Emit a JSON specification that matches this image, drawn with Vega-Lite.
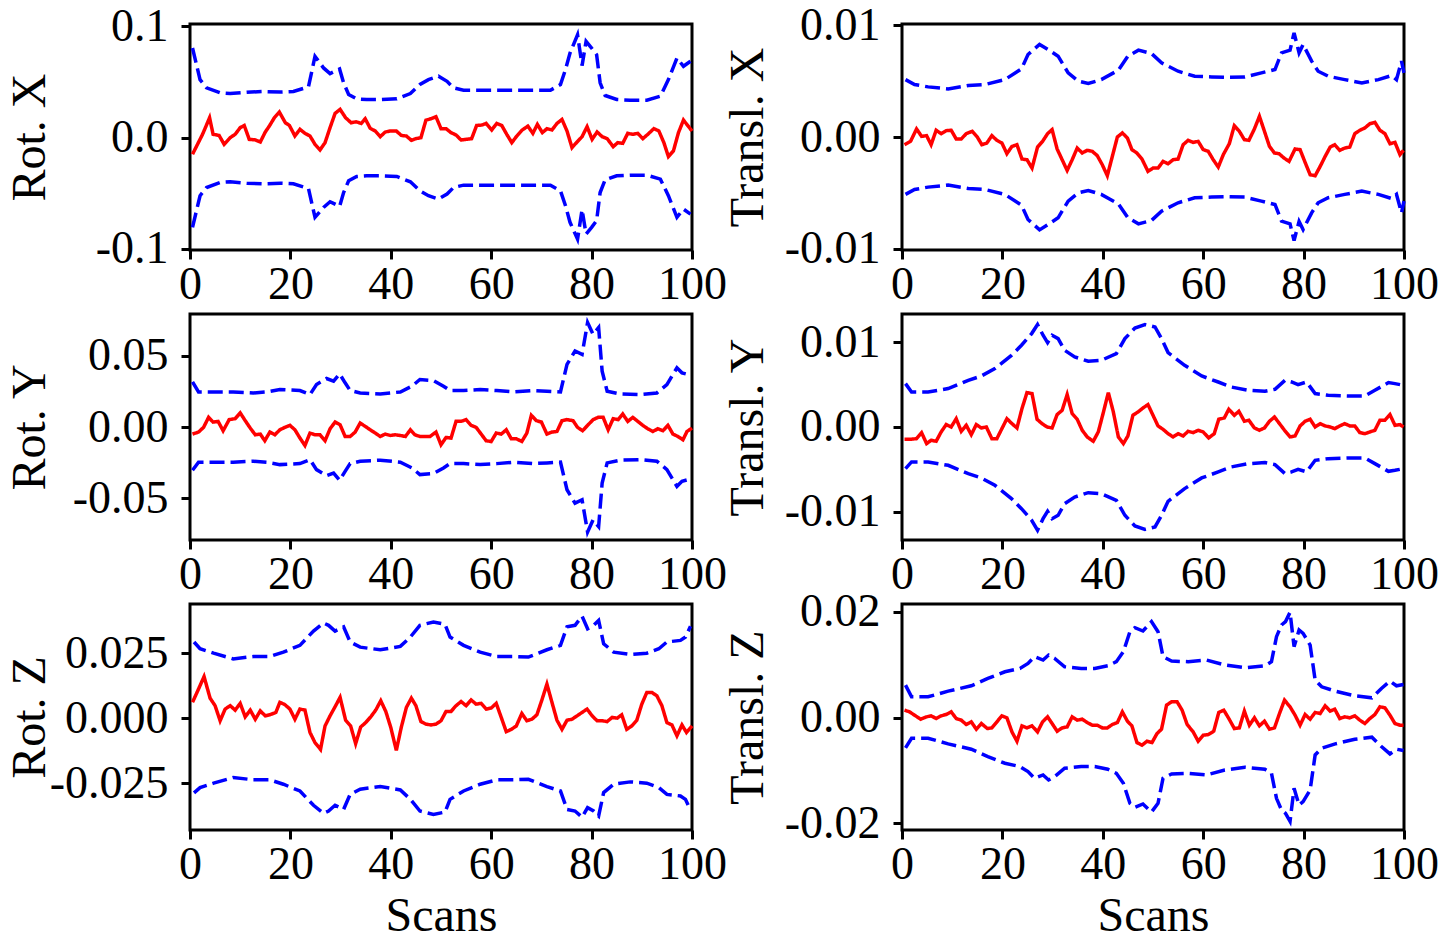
{
  "$schema": "https://vega.github.io/schema/vega-lite/v6.json",
  "background": "white",
  "padding": {"left": 4, "top": 0, "right": 0, "bottom": 0},
  "columns": 2,
  "bounds": "flush",
  "spacing": {"row": 64, "column": 210},
  "datasets": {
    "rx": [
      {"x":0.5,"s":"e","v":-0.0149},{"x":2.5,"s":"e","v":0.003},{"x":3.9,"s":"e","v":0.0179},{"x":4.6,"s":"e","v":0.003},{"x":5.8,"s":"e","v":0.002},{"x":6.8,"s":"e","v":-0.006},{"x":8,"s":"e","v":0},{"x":9,"s":"e","v":0.003},{"x":10,"s":"e","v":0.009},{"x":10.8,"s":"e","v":0.011},{"x":11.8,"s":"e","v":-0.0015},{"x":13,"s":"e","v":-0.002},{"x":14,"s":"e","v":-0.0039},{"x":15,"s":"e","v":0.0051},{"x":15.8,"s":"e","v":0.0104},{"x":16.8,"s":"e","v":0.0179},{"x":17.8,"s":"e","v":0.023},{"x":19,"s":"e","v":0.0134},{"x":19.8,"s":"e","v":0.011},{"x":20.9,"s":"e","v":0.0015},{"x":21.9,"s":"e","v":0.0075},{"x":22.9,"s":"e","v":0.0039},{"x":23.9,"s":"e","v":0.0015},{"x":24.9,"s":"e","v":-0.006},{"x":25.9,"s":"e","v":-0.011},{"x":26.9,"s":"e","v":-0.0045},{"x":27.9,"s":"e","v":0.009},{"x":28.9,"s":"e","v":0.0218},{"x":29.9,"s":"e","v":0.0254},{"x":31,"s":"e","v":0.0179},{"x":32.1,"s":"e","v":0.0134},{"x":33.1,"s":"e","v":0.0143},{"x":34.1,"s":"e","v":0.0128},{"x":34.9,"s":"e","v":0.017},{"x":35.9,"s":"e","v":0.0084},{"x":36.9,"s":"e","v":0.006},{"x":37.9,"s":"e","v":0.0009},{"x":38.9,"s":"e","v":0.0051},{"x":39.9,"s":"e","v":0.006},{"x":41.1,"s":"e","v":0.006},{"x":42.1,"s":"e","v":0.002},{"x":43.1,"s":"e","v":0.0015},{"x":44.1,"s":"e","v":-0.0024},{"x":45,"s":"e","v":-0.0009},{"x":46,"s":"e","v":0},{"x":47,"s":"e","v":0.0158},{"x":48,"s":"e","v":0.017},{"x":49,"s":"e","v":0.0188},{"x":50,"s":"e","v":0.0081},{"x":51,"s":"e","v":0.0081},{"x":52,"s":"e","v":0.0045},{"x":53,"s":"e","v":0.0024},{"x":54,"s":"e","v":-0.0021},{"x":55,"s":"e","v":-0.0015},{"x":56.1,"s":"e","v":-0.0009},{"x":57.1,"s":"e","v":0.011},{"x":58.1,"s":"e","v":0.0113},{"x":59,"s":"e","v":0.0128},{"x":60.1,"s":"e","v":0.0069},{"x":61.1,"s":"e","v":0.0128},{"x":62.1,"s":"e","v":0.011},{"x":63.1,"s":"e","v":0.003},{"x":64.1,"s":"e","v":-0.0045},{"x":65.1,"s":"e","v":0.0015},{"x":66.1,"s":"e","v":0.0066},{"x":67.3,"s":"e","v":0.0104},{"x":68.3,"s":"e","v":0.0039},{"x":69.2,"s":"e","v":0.0119},{"x":70.2,"s":"e","v":0.0045},{"x":71.1,"s":"e","v":0.0081},{"x":72.1,"s":"e","v":0.0069},{"x":73.1,"s":"e","v":0.0128},{"x":74.1,"s":"e","v":0.0164},{"x":75.1,"s":"e","v":0.006},{"x":76.1,"s":"e","v":-0.009},{"x":77.1,"s":"e","v":-0.0039},{"x":78.1,"s":"e","v":0.0009},{"x":79.1,"s":"e","v":0.0099},{"x":80.1,"s":"e","v":-0.0015},{"x":81.1,"s":"e","v":0.0051},{"x":82.1,"s":"e","v":0.0009},{"x":83.1,"s":"e","v":-0.0009},{"x":84.3,"s":"e","v":-0.0081},{"x":85.2,"s":"e","v":-0.0045},{"x":86.2,"s":"e","v":-0.0051},{"x":87.2,"s":"e","v":0.0039},{"x":88.2,"s":"e","v":0.003},{"x":89.2,"s":"e","v":0.0039},{"x":90.2,"s":"e","v":-0.0009},{"x":91.2,"s":"e","v":0.003},{"x":92.4,"s":"e","v":0.0081},{"x":93.4,"s":"e","v":0.006},{"x":94.4,"s":"e","v":-0.0045},{"x":95.3,"s":"e","v":-0.017},{"x":96.3,"s":"e","v":-0.0119},{"x":97.3,"s":"e","v":0.0045},{"x":98.3,"s":"e","v":0.0158},{"x":100,"s":"e","v":0.006},
      {"x":0.5,"s":"u","v":0.0806},{"x":2,"s":"u","v":0.0522},{"x":3.3,"s":"u","v":0.0448},{"x":6,"s":"u","v":0.0403},{"x":8,"s":"u","v":0.0397},{"x":11.3,"s":"u","v":0.0409},{"x":14.6,"s":"u","v":0.0415},{"x":18,"s":"u","v":0.041},{"x":20.6,"s":"u","v":0.0415},{"x":23.6,"s":"u","v":0.0457},{"x":24.9,"s":"u","v":0.0731},{"x":26.6,"s":"u","v":0.0627},{"x":27.9,"s":"u","v":0.0576},{"x":29.8,"s":"u","v":0.0618},{"x":30.6,"s":"u","v":0.0493},{"x":31.6,"s":"u","v":0.0388},{"x":33.2,"s":"u","v":0.0349},{"x":35.2,"s":"u","v":0.0343},{"x":37.9,"s":"u","v":0.0343},{"x":41.2,"s":"u","v":0.0349},{"x":43.9,"s":"u","v":0.0397},{"x":45.8,"s":"u","v":0.0478},{"x":47.5,"s":"u","v":0.0522},{"x":49.5,"s":"u","v":0.0552},{"x":51.2,"s":"u","v":0.0507},{"x":52.5,"s":"u","v":0.0448},{"x":54.5,"s":"u","v":0.0427},{"x":57.8,"s":"u","v":0.0427},{"x":64.5,"s":"u","v":0.0427},{"x":71.8,"s":"u","v":0.0427},{"x":73.8,"s":"u","v":0.0478},{"x":74.8,"s":"u","v":0.0612},{"x":75.7,"s":"u","v":0.0761},{"x":77.2,"s":"u","v":0.0925},{"x":78.1,"s":"u","v":0.0648},{"x":78.9,"s":"u","v":0.0866},{"x":80,"s":"u","v":0.0806},{"x":81,"s":"u","v":0.0746},{"x":81.7,"s":"u","v":0.0493},{"x":82.7,"s":"u","v":0.0379},{"x":85,"s":"u","v":0.0343},{"x":87.7,"s":"u","v":0.0337},{"x":91,"s":"u","v":0.0337},{"x":93.7,"s":"u","v":0.0373},{"x":95.3,"s":"u","v":0.0522},{"x":97,"s":"u","v":0.0716},{"x":98.3,"s":"u","v":0.0642},{"x":99.7,"s":"u","v":0.0687},
      {"x":0.5,"s":"l","v":-0.0806},{"x":2,"s":"l","v":-0.0522},{"x":3.3,"s":"l","v":-0.0448},{"x":6,"s":"l","v":-0.0403},{"x":8,"s":"l","v":-0.0397},{"x":11.3,"s":"l","v":-0.0409},{"x":14.6,"s":"l","v":-0.0415},{"x":18,"s":"l","v":-0.041},{"x":20.6,"s":"l","v":-0.0415},{"x":23.6,"s":"l","v":-0.0457},{"x":24.9,"s":"l","v":-0.0716},{"x":26.6,"s":"l","v":-0.0627},{"x":27.9,"s":"l","v":-0.0576},{"x":29.8,"s":"l","v":-0.0618},{"x":30.6,"s":"l","v":-0.0493},{"x":31.6,"s":"l","v":-0.0388},{"x":33.2,"s":"l","v":-0.0349},{"x":35.2,"s":"l","v":-0.0343},{"x":37.9,"s":"l","v":-0.0343},{"x":41.2,"s":"l","v":-0.0349},{"x":43.9,"s":"l","v":-0.0397},{"x":45.8,"s":"l","v":-0.0478},{"x":47.5,"s":"l","v":-0.0522},{"x":49.5,"s":"l","v":-0.0552},{"x":51.2,"s":"l","v":-0.0507},{"x":52.5,"s":"l","v":-0.0448},{"x":54.5,"s":"l","v":-0.0427},{"x":57.8,"s":"l","v":-0.0427},{"x":64.5,"s":"l","v":-0.0427},{"x":71.8,"s":"l","v":-0.0427},{"x":73.8,"s":"l","v":-0.0478},{"x":74.8,"s":"l","v":-0.0612},{"x":75.7,"s":"l","v":-0.0761},{"x":77.2,"s":"l","v":-0.0913},{"x":78.1,"s":"l","v":-0.0648},{"x":78.9,"s":"l","v":-0.0866},{"x":80,"s":"l","v":-0.0806},{"x":81,"s":"l","v":-0.0746},{"x":81.7,"s":"l","v":-0.0493},{"x":82.7,"s":"l","v":-0.0379},{"x":85,"s":"l","v":-0.0343},{"x":87.7,"s":"l","v":-0.0337},{"x":91,"s":"l","v":-0.0337},{"x":93.7,"s":"l","v":-0.0373},{"x":95.3,"s":"l","v":-0.0522},{"x":97,"s":"l","v":-0.0716},{"x":98.3,"s":"l","v":-0.0642},{"x":99.7,"s":"l","v":-0.0687}
    ],
    "tx": [
      {"x":0.5,"s":"e","v":-0.00069},{"x":1.7,"s":"e","v":-0.00039},{"x":2.9,"s":"e","v":0.00072},{"x":3.9,"s":"e","v":0.00006},{"x":4.9,"s":"e","v":0.00012},{"x":5.8,"s":"e","v":-0.00069},{"x":6.8,"s":"e","v":0.0006},{"x":7.8,"s":"e","v":0.0003},{"x":8.8,"s":"e","v":0.00057},{"x":9.8,"s":"e","v":0.0006},{"x":10.8,"s":"e","v":-0.00018},{"x":11.8,"s":"e","v":-0.00018},{"x":12.8,"s":"e","v":0.0003},{"x":14,"s":"e","v":0.00051},{"x":15,"s":"e","v":0},{"x":15.9,"s":"e","v":-0.00069},{"x":16.9,"s":"e","v":-0.00054},{"x":17.9,"s":"e","v":0.00012},{"x":18.9,"s":"e","v":-0.0003},{"x":19.9,"s":"e","v":-0.00054},{"x":20.9,"s":"e","v":-0.00149},{"x":21.9,"s":"e","v":-0.00084},{"x":22.9,"s":"e","v":-0.00069},{"x":23.9,"s":"e","v":-0.00197},{"x":24.9,"s":"e","v":-0.00203},{"x":25.9,"s":"e","v":-0.00278},{"x":27,"s":"e","v":-0.0009},{"x":28,"s":"e","v":-0.00039},{"x":29,"s":"e","v":0.0003},{"x":29.9,"s":"e","v":0.00066},{"x":30.9,"s":"e","v":-0.00107},{"x":31.9,"s":"e","v":-0.00203},{"x":32.9,"s":"e","v":-0.00299},{"x":33.9,"s":"e","v":-0.00203},{"x":34.9,"s":"e","v":-0.00099},{"x":35.9,"s":"e","v":-0.00143},{"x":36.9,"s":"e","v":-0.00119},{"x":37.9,"s":"e","v":-0.00128},{"x":38.9,"s":"e","v":-0.00167},{"x":39.9,"s":"e","v":-0.00248},{"x":40.9,"s":"e","v":-0.00346},{"x":41.9,"s":"e","v":-0.00173},{"x":42.9,"s":"e","v":0},{"x":43.9,"s":"e","v":0.00036},{"x":44.9,"s":"e","v":-0.00009},{"x":45.8,"s":"e","v":-0.00113},{"x":46.8,"s":"e","v":-0.00143},{"x":47.8,"s":"e","v":-0.00197},{"x":49,"s":"e","v":-0.00307},{"x":50,"s":"e","v":-0.00278},{"x":51,"s":"e","v":-0.00278},{"x":52,"s":"e","v":-0.00218},{"x":53,"s":"e","v":-0.00239},{"x":54,"s":"e","v":-0.00203},{"x":55,"s":"e","v":-0.00197},{"x":56,"s":"e","v":-0.00069},{"x":57,"s":"e","v":-0.0003},{"x":58,"s":"e","v":-0.00048},{"x":59,"s":"e","v":-0.00039},{"x":60,"s":"e","v":-0.00113},{"x":61,"s":"e","v":-0.00128},{"x":62,"s":"e","v":-0.00203},{"x":63,"s":"e","v":-0.00269},{"x":64,"s":"e","v":-0.00158},{"x":65.2,"s":"e","v":-0.0006},{"x":66.2,"s":"e","v":0.00101},{"x":67.2,"s":"e","v":0.00051},{"x":68.2,"s":"e","v":-0.00024},{"x":69.1,"s":"e","v":-0.0003},{"x":70.2,"s":"e","v":0.00072},{"x":71.2,"s":"e","v":0.00185},{"x":72.2,"s":"e","v":0.00051},{"x":73.2,"s":"e","v":-0.00084},{"x":74.2,"s":"e","v":-0.00143},{"x":75.1,"s":"e","v":-0.00149},{"x":76.1,"s":"e","v":-0.00188},{"x":77.1,"s":"e","v":-0.00218},{"x":78.3,"s":"e","v":-0.00107},{"x":79.3,"s":"e","v":-0.00113},{"x":80.3,"s":"e","v":-0.00227},{"x":81.3,"s":"e","v":-0.00337},{"x":82.3,"s":"e","v":-0.00346},{"x":83.3,"s":"e","v":-0.00263},{"x":84.3,"s":"e","v":-0.00173},{"x":85.3,"s":"e","v":-0.0009},{"x":86.2,"s":"e","v":-0.00069},{"x":87.2,"s":"e","v":-0.00119},{"x":88.2,"s":"e","v":-0.00099},{"x":89.2,"s":"e","v":-0.0009},{"x":90.2,"s":"e","v":0.0003},{"x":91.2,"s":"e","v":0.0006},{"x":92.2,"s":"e","v":0.00081},{"x":93.2,"s":"e","v":0.00119},{"x":94.2,"s":"e","v":0.00131},{"x":95.2,"s":"e","v":0.0006},{"x":96.2,"s":"e","v":0.0003},{"x":97.2,"s":"e","v":-0.0006},{"x":98.2,"s":"e","v":-0.00048},{"x":99.2,"s":"e","v":-0.00158},{"x":99.9,"s":"e","v":-0.00119},
      {"x":0.7,"s":"u","v":0.00513},{"x":2.5,"s":"u","v":0.00469},{"x":5.2,"s":"u","v":0.00448},{"x":9.2,"s":"u","v":0.0043},{"x":13.2,"s":"u","v":0.0046},{"x":16.5,"s":"u","v":0.00469},{"x":20.5,"s":"u","v":0.00513},{"x":23.8,"s":"u","v":0.00609},{"x":25.1,"s":"u","v":0.00737},{"x":27.4,"s":"u","v":0.00827},{"x":29.1,"s":"u","v":0.00782},{"x":31.1,"s":"u","v":0.00722},{"x":33.1,"s":"u","v":0.00573},{"x":35.1,"s":"u","v":0.00499},{"x":37.1,"s":"u","v":0.00478},{"x":39.7,"s":"u","v":0.00513},{"x":43.1,"s":"u","v":0.00597},{"x":45,"s":"u","v":0.00722},{"x":47.1,"s":"u","v":0.00776},{"x":49.7,"s":"u","v":0.00746},{"x":51.7,"s":"u","v":0.00663},{"x":55,"s":"u","v":0.00588},{"x":58.3,"s":"u","v":0.00543},{"x":61.7,"s":"u","v":0.00537},{"x":65,"s":"u","v":0.00534},{"x":68.3,"s":"u","v":0.00537},{"x":71.6,"s":"u","v":0.00573},{"x":74.3,"s":"u","v":0.00603},{"x":75.6,"s":"u","v":0.00752},{"x":77.3,"s":"u","v":0.00776},{"x":78.1,"s":"u","v":0.00931},{"x":79.1,"s":"u","v":0.00752},{"x":79.9,"s":"u","v":0.00827},{"x":81.6,"s":"u","v":0.00678},{"x":82.9,"s":"u","v":0.00588},{"x":84.9,"s":"u","v":0.00543},{"x":88.2,"s":"u","v":0.00513},{"x":91.6,"s":"u","v":0.00484},{"x":94.9,"s":"u","v":0.00513},{"x":97.5,"s":"u","v":0.00549},{"x":98.5,"s":"u","v":0.00513},{"x":99.5,"s":"u","v":0.00678},{"x":100,"s":"u","v":0.00573},
      {"x":0.7,"s":"l","v":-0.00513},{"x":2.5,"s":"l","v":-0.00469},{"x":5.2,"s":"l","v":-0.00448},{"x":9.2,"s":"l","v":-0.0043},{"x":13.2,"s":"l","v":-0.0046},{"x":16.5,"s":"l","v":-0.00469},{"x":20.5,"s":"l","v":-0.00513},{"x":23.8,"s":"l","v":-0.00609},{"x":25.1,"s":"l","v":-0.00737},{"x":27.4,"s":"l","v":-0.0083},{"x":29.1,"s":"l","v":-0.00782},{"x":31.1,"s":"l","v":-0.00722},{"x":33.1,"s":"l","v":-0.00573},{"x":35.1,"s":"l","v":-0.00499},{"x":37.1,"s":"l","v":-0.00478},{"x":39.7,"s":"l","v":-0.00513},{"x":43.1,"s":"l","v":-0.00597},{"x":45,"s":"l","v":-0.00722},{"x":47.1,"s":"l","v":-0.00776},{"x":49.7,"s":"l","v":-0.00746},{"x":51.7,"s":"l","v":-0.00663},{"x":55,"s":"l","v":-0.00588},{"x":58.3,"s":"l","v":-0.00543},{"x":61.7,"s":"l","v":-0.00537},{"x":65,"s":"l","v":-0.00534},{"x":68.3,"s":"l","v":-0.00537},{"x":71.6,"s":"l","v":-0.00573},{"x":74.3,"s":"l","v":-0.00603},{"x":75.6,"s":"l","v":-0.00752},{"x":77.3,"s":"l","v":-0.00776},{"x":78.1,"s":"l","v":-0.00925},{"x":79.1,"s":"l","v":-0.00755},{"x":79.9,"s":"l","v":-0.00827},{"x":81.6,"s":"l","v":-0.00678},{"x":82.9,"s":"l","v":-0.00588},{"x":84.9,"s":"l","v":-0.00543},{"x":88.2,"s":"l","v":-0.00513},{"x":91.6,"s":"l","v":-0.00484},{"x":94.9,"s":"l","v":-0.00513},{"x":97.5,"s":"l","v":-0.00549},{"x":98.5,"s":"l","v":-0.00513},{"x":99.5,"s":"l","v":-0.00678},{"x":100,"s":"l","v":-0.00573}
    ],
    "ry": [
      {"x":0.5,"s":"e","v":-0.0049},{"x":1.7,"s":"e","v":-0.0035},{"x":2.7,"s":"e","v":-0.0002},{"x":3.7,"s":"e","v":0.0068},{"x":4.6,"s":"e","v":0.0035},{"x":5.6,"s":"e","v":0.004},{"x":6.6,"s":"e","v":-0.0026},{"x":7.8,"s":"e","v":0.0052},{"x":9,"s":"e","v":0.0059},{"x":10,"s":"e","v":0.0099},{"x":11,"s":"e","v":0.0045},{"x":12,"s":"e","v":-0.0007},{"x":13,"s":"e","v":-0.0054},{"x":14,"s":"e","v":-0.0049},{"x":14.9,"s":"e","v":-0.0096},{"x":15.9,"s":"e","v":-0.0035},{"x":16.9,"s":"e","v":-0.0054},{"x":17.9,"s":"e","v":-0.0019},{"x":18.9,"s":"e","v":-0.0002},{"x":19.9,"s":"e","v":0.0012},{"x":20.9,"s":"e","v":-0.0019},{"x":21.9,"s":"e","v":-0.0077},{"x":22.9,"s":"e","v":-0.0129},{"x":23.9,"s":"e","v":-0.0042},{"x":24.9,"s":"e","v":-0.0054},{"x":25.9,"s":"e","v":-0.0054},{"x":26.9,"s":"e","v":-0.0096},{"x":27.9,"s":"e","v":-0.0012},{"x":28.9,"s":"e","v":0.0035},{"x":29.9,"s":"e","v":0.0016},{"x":30.9,"s":"e","v":-0.0066},{"x":31.9,"s":"e","v":-0.0066},{"x":32.9,"s":"e","v":-0.0035},{"x":33.9,"s":"e","v":0.0028},{"x":34.9,"s":"e","v":0.0005},{"x":35.9,"s":"e","v":-0.0019},{"x":36.9,"s":"e","v":-0.0042},{"x":37.9,"s":"e","v":-0.0066},{"x":38.9,"s":"e","v":-0.0049},{"x":39.9,"s":"e","v":-0.0059},{"x":40.9,"s":"e","v":-0.0054},{"x":41.9,"s":"e","v":-0.0059},{"x":42.9,"s":"e","v":-0.0066},{"x":43.9,"s":"e","v":-0.0019},{"x":44.8,"s":"e","v":-0.0054},{"x":45.8,"s":"e","v":-0.0066},{"x":46.8,"s":"e","v":-0.0066},{"x":47.8,"s":"e","v":-0.0066},{"x":49,"s":"e","v":-0.0035},{"x":50,"s":"e","v":-0.0124},{"x":51,"s":"e","v":-0.0073},{"x":52,"s":"e","v":-0.0077},{"x":53,"s":"e","v":0.004},{"x":54,"s":"e","v":0.004},{"x":55,"s":"e","v":0.0052},{"x":56,"s":"e","v":0.0012},{"x":57,"s":"e","v":-0.0002},{"x":58,"s":"e","v":-0.0049},{"x":59,"s":"e","v":-0.0096},{"x":60,"s":"e","v":-0.0101},{"x":61,"s":"e","v":-0.0042},{"x":62,"s":"e","v":-0.0049},{"x":63,"s":"e","v":-0.0019},{"x":64,"s":"e","v":-0.0082},{"x":65,"s":"e","v":-0.0082},{"x":66.1,"s":"e","v":-0.0101},{"x":67.1,"s":"e","v":-0.0042},{"x":68,"s":"e","v":0.0082},{"x":69,"s":"e","v":0.0045},{"x":70,"s":"e","v":0.0035},{"x":71.1,"s":"e","v":-0.0049},{"x":72.1,"s":"e","v":-0.0035},{"x":73.1,"s":"e","v":-0.0031},{"x":74.1,"s":"e","v":0.0045},{"x":75.1,"s":"e","v":0.0052},{"x":76.3,"s":"e","v":0.0045},{"x":77.2,"s":"e","v":-0.0002},{"x":78.2,"s":"e","v":-0.0026},{"x":79.2,"s":"e","v":0.0012},{"x":80.3,"s":"e","v":0.0052},{"x":81.3,"s":"e","v":0.0068},{"x":82.3,"s":"e","v":0.0068},{"x":83.3,"s":"e","v":-0.0019},{"x":84.3,"s":"e","v":0.0059},{"x":85.3,"s":"e","v":0.0052},{"x":86.2,"s":"e","v":0.0092},{"x":87.2,"s":"e","v":0.004},{"x":88.2,"s":"e","v":0.0068},{"x":89.2,"s":"e","v":0.004},{"x":90.2,"s":"e","v":0.0012},{"x":91.2,"s":"e","v":-0.0012},{"x":92.2,"s":"e","v":-0.0031},{"x":93.2,"s":"e","v":-0.0012},{"x":94.2,"s":"e","v":-0.0026},{"x":95.2,"s":"e","v":0.0012},{"x":96.2,"s":"e","v":-0.0049},{"x":97.2,"s":"e","v":-0.0066},{"x":98.2,"s":"e","v":-0.0089},{"x":99,"s":"e","v":-0.0031},{"x":100,"s":"e","v":-0.0007},
      {"x":0.5,"s":"u","v":0.0317},{"x":1.7,"s":"u","v":0.0246},{"x":4.7,"s":"u","v":0.0246},{"x":8.6,"s":"u","v":0.0246},{"x":12.6,"s":"u","v":0.0239},{"x":15.3,"s":"u","v":0.0246},{"x":17.9,"s":"u","v":0.0263},{"x":21.9,"s":"u","v":0.0256},{"x":23.9,"s":"u","v":0.0228},{"x":25.2,"s":"u","v":0.0298},{"x":27.2,"s":"u","v":0.034},{"x":28.6,"s":"u","v":0.0322},{"x":29.8,"s":"u","v":0.0373},{"x":30.9,"s":"u","v":0.031},{"x":31.9,"s":"u","v":0.0256},{"x":33.9,"s":"u","v":0.0239},{"x":37.9,"s":"u","v":0.0232},{"x":41.9,"s":"u","v":0.0246},{"x":44.2,"s":"u","v":0.0286},{"x":45.8,"s":"u","v":0.0333},{"x":48.5,"s":"u","v":0.0326},{"x":50.5,"s":"u","v":0.0286},{"x":51.8,"s":"u","v":0.0256},{"x":54.5,"s":"u","v":0.0256},{"x":57.8,"s":"u","v":0.0263},{"x":61.1,"s":"u","v":0.0256},{"x":64.5,"s":"u","v":0.0246},{"x":68.4,"s":"u","v":0.0256},{"x":71.1,"s":"u","v":0.0251},{"x":73.8,"s":"u","v":0.0246},{"x":75.1,"s":"u","v":0.0439},{"x":76.7,"s":"u","v":0.0533},{"x":78.1,"s":"u","v":0.0509},{"x":79.2,"s":"u","v":0.0732},{"x":80.3,"s":"u","v":0.065},{"x":81.4,"s":"u","v":0.0697},{"x":82.1,"s":"u","v":0.0392},{"x":83.1,"s":"u","v":0.0251},{"x":85.7,"s":"u","v":0.0232},{"x":89.7,"s":"u","v":0.0228},{"x":93,"s":"u","v":0.0239},{"x":95,"s":"u","v":0.0298},{"x":97,"s":"u","v":0.0415},{"x":98,"s":"u","v":0.038},{"x":99.7,"s":"u","v":0.0364},
      {"x":0.5,"s":"l","v":-0.0302},{"x":1.7,"s":"l","v":-0.0246},{"x":4.7,"s":"l","v":-0.0246},{"x":8.6,"s":"l","v":-0.0246},{"x":12.6,"s":"l","v":-0.0239},{"x":15.3,"s":"l","v":-0.0246},{"x":17.9,"s":"l","v":-0.0263},{"x":21.9,"s":"l","v":-0.0256},{"x":23.9,"s":"l","v":-0.0228},{"x":25.2,"s":"l","v":-0.0298},{"x":27.2,"s":"l","v":-0.034},{"x":28.6,"s":"l","v":-0.0322},{"x":29.8,"s":"l","v":-0.0373},{"x":30.9,"s":"l","v":-0.031},{"x":31.9,"s":"l","v":-0.0256},{"x":33.9,"s":"l","v":-0.0239},{"x":37.9,"s":"l","v":-0.0232},{"x":41.9,"s":"l","v":-0.0246},{"x":44.2,"s":"l","v":-0.0286},{"x":45.8,"s":"l","v":-0.0333},{"x":48.5,"s":"l","v":-0.0326},{"x":50.5,"s":"l","v":-0.0286},{"x":51.8,"s":"l","v":-0.0256},{"x":54.5,"s":"l","v":-0.0256},{"x":57.8,"s":"l","v":-0.0263},{"x":61.1,"s":"l","v":-0.0256},{"x":64.5,"s":"l","v":-0.0246},{"x":68.4,"s":"l","v":-0.0256},{"x":71.1,"s":"l","v":-0.0251},{"x":73.8,"s":"l","v":-0.0246},{"x":75.1,"s":"l","v":-0.0439},{"x":76.7,"s":"l","v":-0.0533},{"x":78.1,"s":"l","v":-0.0509},{"x":79.2,"s":"l","v":-0.0735},{"x":80.3,"s":"l","v":-0.065},{"x":81.4,"s":"l","v":-0.0697},{"x":82.1,"s":"l","v":-0.0392},{"x":83.1,"s":"l","v":-0.0251},{"x":85.7,"s":"l","v":-0.0232},{"x":89.7,"s":"l","v":-0.0228},{"x":93,"s":"l","v":-0.0239},{"x":95,"s":"l","v":-0.0298},{"x":97,"s":"l","v":-0.0415},{"x":98,"s":"l","v":-0.038},{"x":99.7,"s":"l","v":-0.0364}
    ],
    "ty": [
      {"x":0.5,"s":"e","v":-0.00146},{"x":1.7,"s":"e","v":-0.00146},{"x":2.9,"s":"e","v":-0.00138},{"x":3.9,"s":"e","v":-0.00067},{"x":4.9,"s":"e","v":-0.00197},{"x":5.8,"s":"e","v":-0.00157},{"x":6.8,"s":"e","v":-0.00169},{"x":7.8,"s":"e","v":-0.00059},{"x":8.8,"s":"e","v":0.00028},{"x":9.8,"s":"e","v":0},{"x":10.8,"s":"e","v":0.00098},{"x":11.8,"s":"e","v":-0.00051},{"x":12.8,"s":"e","v":0.0002},{"x":13.8,"s":"e","v":-0.00091},{"x":14.8,"s":"e","v":0.00028},{"x":15.8,"s":"e","v":-0.00012},{"x":16.8,"s":"e","v":0},{"x":17.9,"s":"e","v":-0.00138},{"x":18.9,"s":"e","v":-0.00138},{"x":19.9,"s":"e","v":-0.0002},{"x":20.9,"s":"e","v":0.00098},{"x":21.9,"s":"e","v":0.00039},{"x":22.9,"s":"e","v":-0.00012},{"x":23.9,"s":"e","v":0.00217},{"x":24.9,"s":"e","v":0.00406},{"x":25.9,"s":"e","v":0.00394},{"x":26.9,"s":"e","v":0.00091},{"x":27.9,"s":"e","v":0.00039},{"x":28.9,"s":"e","v":0},{"x":29.9,"s":"e","v":-0.00012},{"x":30.9,"s":"e","v":0.00146},{"x":31.9,"s":"e","v":0.00197},{"x":32.9,"s":"e","v":0.00382},{"x":33.9,"s":"e","v":0.00157},{"x":34.9,"s":"e","v":0.00091},{"x":35.9,"s":"e","v":-0.00039},{"x":36.9,"s":"e","v":-0.00118},{"x":38.1,"s":"e","v":-0.00169},{"x":39.1,"s":"e","v":-0.00059},{"x":40.1,"s":"e","v":0.00169},{"x":41.1,"s":"e","v":0.00406},{"x":42.1,"s":"e","v":0.00177},{"x":43.1,"s":"e","v":-0.00118},{"x":44.1,"s":"e","v":-0.00197},{"x":45,"s":"e","v":-0.00106},{"x":46,"s":"e","v":0.00138},{"x":47,"s":"e","v":0.00177},{"x":48,"s":"e","v":0.00224},{"x":49,"s":"e","v":0.00264},{"x":50,"s":"e","v":0.00138},{"x":51,"s":"e","v":0.00012},{"x":52,"s":"e","v":-0.00028},{"x":53,"s":"e","v":-0.00079},{"x":54,"s":"e","v":-0.00118},{"x":55,"s":"e","v":-0.00079},{"x":56,"s":"e","v":-0.00106},{"x":57,"s":"e","v":-0.00051},{"x":58,"s":"e","v":-0.00067},{"x":59,"s":"e","v":-0.00039},{"x":60,"s":"e","v":-0.00059},{"x":61.1,"s":"e","v":-0.0013},{"x":62.2,"s":"e","v":-0.00079},{"x":63.1,"s":"e","v":0.00091},{"x":64.2,"s":"e","v":0.00106},{"x":65.1,"s":"e","v":0.00209},{"x":66.2,"s":"e","v":0.00138},{"x":67.1,"s":"e","v":0.00185},{"x":68.2,"s":"e","v":0.00067},{"x":69.1,"s":"e","v":0.00079},{"x":70.2,"s":"e","v":-0.00012},{"x":71.2,"s":"e","v":-0.00039},{"x":72.2,"s":"e","v":-0.00012},{"x":73.2,"s":"e","v":0.00067},{"x":74.2,"s":"e","v":0.00118},{"x":75.2,"s":"e","v":0.00039},{"x":76.2,"s":"e","v":-0.00039},{"x":77.3,"s":"e","v":-0.00118},{"x":78.3,"s":"e","v":-0.00106},{"x":79.3,"s":"e","v":0.00012},{"x":80.3,"s":"e","v":0.00067},{"x":81.3,"s":"e","v":0.00091},{"x":82.3,"s":"e","v":0},{"x":83.3,"s":"e","v":0.00039},{"x":84.3,"s":"e","v":0.00012},{"x":85.3,"s":"e","v":0},{"x":86.2,"s":"e","v":-0.0002},{"x":87.2,"s":"e","v":0.00012},{"x":88.2,"s":"e","v":0.00039},{"x":89.2,"s":"e","v":0.00012},{"x":90.2,"s":"e","v":0.00012},{"x":91.2,"s":"e","v":-0.00067},{"x":92.2,"s":"e","v":-0.00079},{"x":94.2,"s":"e","v":-0.00039},{"x":95.2,"s":"e","v":0.00079},{"x":96.2,"s":"e","v":0.00079},{"x":97.2,"s":"e","v":0.00146},{"x":98.2,"s":"e","v":0.0002},{"x":99.2,"s":"e","v":0.00028},{"x":99.9,"s":"e","v":0},
      {"x":0.7,"s":"u","v":0.00512},{"x":1.9,"s":"u","v":0.00413},{"x":5.2,"s":"u","v":0.00413},{"x":9.2,"s":"u","v":0.00453},{"x":13.2,"s":"u","v":0.00551},{"x":15.8,"s":"u","v":0.00602},{"x":18.5,"s":"u","v":0.00689},{"x":21.8,"s":"u","v":0.00846},{"x":23.8,"s":"u","v":0.00965},{"x":25.8,"s":"u","v":0.011},{"x":27,"s":"u","v":0.01209},{"x":28.1,"s":"u","v":0.01083},{"x":29,"s":"u","v":0.00996},{"x":29.9,"s":"u","v":0.01083},{"x":31.1,"s":"u","v":0.01043},{"x":32.4,"s":"u","v":0.00906},{"x":34.4,"s":"u","v":0.00827},{"x":37.1,"s":"u","v":0.00776},{"x":39.7,"s":"u","v":0.00787},{"x":42.7,"s":"u","v":0.00866},{"x":44.4,"s":"u","v":0.01043},{"x":46.4,"s":"u","v":0.01169},{"x":48.4,"s":"u","v":0.01209},{"x":50.4,"s":"u","v":0.01181},{"x":51.7,"s":"u","v":0.01043},{"x":53,"s":"u","v":0.00878},{"x":56.3,"s":"u","v":0.00728},{"x":59.7,"s":"u","v":0.00602},{"x":63,"s":"u","v":0.00531},{"x":65.6,"s":"u","v":0.00472},{"x":69,"s":"u","v":0.00433},{"x":72.3,"s":"u","v":0.00421},{"x":74.3,"s":"u","v":0.00445},{"x":76.3,"s":"u","v":0.00551},{"x":77.6,"s":"u","v":0.00531},{"x":78.9,"s":"u","v":0.005},{"x":80.6,"s":"u","v":0.00531},{"x":82.3,"s":"u","v":0.00394},{"x":84.9,"s":"u","v":0.00374},{"x":88.9,"s":"u","v":0.00366},{"x":92.2,"s":"u","v":0.00366},{"x":94.2,"s":"u","v":0.00433},{"x":96.9,"s":"u","v":0.00524},{"x":98.2,"s":"u","v":0.00512},{"x":99.9,"s":"u","v":0.00492},
      {"x":0.7,"s":"l","v":-0.00492},{"x":1.9,"s":"l","v":-0.00413},{"x":5.2,"s":"l","v":-0.00413},{"x":9.2,"s":"l","v":-0.00453},{"x":13.2,"s":"l","v":-0.00551},{"x":15.8,"s":"l","v":-0.00602},{"x":18.5,"s":"l","v":-0.00689},{"x":21.8,"s":"l","v":-0.00846},{"x":23.8,"s":"l","v":-0.00965},{"x":25.8,"s":"l","v":-0.011},{"x":27,"s":"l","v":-0.0122},{"x":28.1,"s":"l","v":-0.01083},{"x":29,"s":"l","v":-0.00996},{"x":29.9,"s":"l","v":-0.01083},{"x":31.1,"s":"l","v":-0.01043},{"x":32.4,"s":"l","v":-0.00906},{"x":34.4,"s":"l","v":-0.00827},{"x":37.1,"s":"l","v":-0.00776},{"x":39.7,"s":"l","v":-0.00787},{"x":42.7,"s":"l","v":-0.00866},{"x":44.4,"s":"l","v":-0.01043},{"x":46.4,"s":"l","v":-0.01169},{"x":48.4,"s":"l","v":-0.01209},{"x":50.4,"s":"l","v":-0.01181},{"x":51.7,"s":"l","v":-0.01043},{"x":53,"s":"l","v":-0.00878},{"x":56.3,"s":"l","v":-0.00728},{"x":59.7,"s":"l","v":-0.00602},{"x":63,"s":"l","v":-0.00531},{"x":65.6,"s":"l","v":-0.00472},{"x":69,"s":"l","v":-0.00433},{"x":72.3,"s":"l","v":-0.00421},{"x":74.3,"s":"l","v":-0.00445},{"x":76.3,"s":"l","v":-0.00551},{"x":77.6,"s":"l","v":-0.00531},{"x":78.9,"s":"l","v":-0.005},{"x":80.6,"s":"l","v":-0.00531},{"x":82.3,"s":"l","v":-0.00394},{"x":84.9,"s":"l","v":-0.00374},{"x":88.9,"s":"l","v":-0.00366},{"x":92.2,"s":"l","v":-0.00366},{"x":94.2,"s":"l","v":-0.00433},{"x":96.9,"s":"l","v":-0.00524},{"x":98.2,"s":"l","v":-0.00512},{"x":99.9,"s":"l","v":-0.00492}
    ],
    "rz": [
      {"x":0.5,"s":"e","v":0.0061},{"x":1.7,"s":"e","v":0.0112},{"x":2.8,"s":"e","v":0.016},{"x":4,"s":"e","v":0.0077},{"x":5,"s":"e","v":0.0048},{"x":6,"s":"e","v":-0.001},{"x":7,"s":"e","v":0.0035},{"x":8,"s":"e","v":0.0048},{"x":9,"s":"e","v":0.0031},{"x":10,"s":"e","v":0.0057},{"x":11,"s":"e","v":0.0005},{"x":12,"s":"e","v":0.0031},{"x":13,"s":"e","v":-0.0004},{"x":14,"s":"e","v":0.0028},{"x":15,"s":"e","v":0.0009},{"x":15.9,"s":"e","v":0.0013},{"x":17.1,"s":"e","v":0.0022},{"x":17.9,"s":"e","v":0.0061},{"x":18.9,"s":"e","v":0.0052},{"x":19.9,"s":"e","v":0.0035},{"x":20.9,"s":"e","v":-0.0004},{"x":21.9,"s":"e","v":0.0035},{"x":22.9,"s":"e","v":0.0031},{"x":23.9,"s":"e","v":-0.0055},{"x":24.9,"s":"e","v":-0.0094},{"x":26,"s":"e","v":-0.012},{"x":26.9,"s":"e","v":-0.003},{"x":27.9,"s":"e","v":0.0009},{"x":28.9,"s":"e","v":0.0044},{"x":29.9,"s":"e","v":0.008},{"x":31,"s":"e","v":-0.0008},{"x":32,"s":"e","v":-0.003},{"x":33,"s":"e","v":-0.0098},{"x":34,"s":"e","v":-0.0034},{"x":35,"s":"e","v":-0.0017},{"x":36,"s":"e","v":0.0005},{"x":37,"s":"e","v":0.0031},{"x":38,"s":"e","v":0.0067},{"x":39,"s":"e","v":0.0026},{"x":40,"s":"e","v":-0.0036},{"x":41.1,"s":"e","v":-0.0124},{"x":42.1,"s":"e","v":-0.0034},{"x":43.1,"s":"e","v":0.0041},{"x":44.1,"s":"e","v":0.0077},{"x":45,"s":"e","v":0.0048},{"x":46,"s":"e","v":-0.0013},{"x":47,"s":"e","v":-0.0023},{"x":48,"s":"e","v":-0.0026},{"x":49,"s":"e","v":-0.0023},{"x":50,"s":"e","v":-0.001},{"x":51,"s":"e","v":0.0026},{"x":52,"s":"e","v":0.0026},{"x":53,"s":"e","v":0.0048},{"x":54,"s":"e","v":0.0064},{"x":55,"s":"e","v":0.0048},{"x":56,"s":"e","v":0.007},{"x":57,"s":"e","v":0.0054},{"x":58,"s":"e","v":0.0057},{"x":59,"s":"e","v":0.0035},{"x":60,"s":"e","v":0.0039},{"x":61,"s":"e","v":0.0057},{"x":62,"s":"e","v":0.0003},{"x":63,"s":"e","v":-0.0052},{"x":64,"s":"e","v":-0.0043},{"x":65,"s":"e","v":-0.003},{"x":66.1,"s":"e","v":0.0018},{"x":67.1,"s":"e","v":-0.001},{"x":68.1,"s":"e","v":-0.0004},{"x":69.1,"s":"e","v":0.0013},{"x":70.1,"s":"e","v":0.007},{"x":71.1,"s":"e","v":0.0131},{"x":72.1,"s":"e","v":0.0061},{"x":73.1,"s":"e","v":-0.0008},{"x":74.1,"s":"e","v":-0.0043},{"x":75.1,"s":"e","v":-0.0008},{"x":76.1,"s":"e","v":-0.0004},{"x":77.1,"s":"e","v":0.0009},{"x":78.1,"s":"e","v":0.0022},{"x":79.1,"s":"e","v":0.0035},{"x":80.1,"s":"e","v":0.0009},{"x":81.1,"s":"e","v":-0.001},{"x":82.1,"s":"e","v":-0.001},{"x":83.1,"s":"e","v":-0.0013},{"x":84.1,"s":"e","v":0.0003},{"x":85.1,"s":"e","v":0},{"x":86,"s":"e","v":0.0013},{"x":87,"s":"e","v":-0.0043},{"x":88,"s":"e","v":-0.003},{"x":89,"s":"e","v":-0.0008},{"x":90,"s":"e","v":0.0054},{"x":91,"s":"e","v":0.0099},{"x":92,"s":"e","v":0.0099},{"x":93,"s":"e","v":0.0086},{"x":94,"s":"e","v":0.0048},{"x":95,"s":"e","v":-0.0017},{"x":96,"s":"e","v":-0.0026},{"x":97,"s":"e","v":-0.0068},{"x":98,"s":"e","v":-0.0026},{"x":98.9,"s":"e","v":-0.0055},{"x":100,"s":"e","v":-0.003},
      {"x":0.8,"s":"u","v":0.0293},{"x":2,"s":"u","v":0.0267},{"x":4.7,"s":"u","v":0.025},{"x":8.6,"s":"u","v":0.0228},{"x":12.6,"s":"u","v":0.0237},{"x":15.9,"s":"u","v":0.0237},{"x":18.6,"s":"u","v":0.0254},{"x":21.9,"s":"u","v":0.028},{"x":24.6,"s":"u","v":0.0335},{"x":26.6,"s":"u","v":0.0366},{"x":27.6,"s":"u","v":0.0357},{"x":28.9,"s":"u","v":0.0335},{"x":30.6,"s":"u","v":0.0351},{"x":31.9,"s":"u","v":0.0293},{"x":33.9,"s":"u","v":0.0273},{"x":37.9,"s":"u","v":0.0263},{"x":41.9,"s":"u","v":0.0276},{"x":43.9,"s":"u","v":0.0312},{"x":45.8,"s":"u","v":0.0357},{"x":48.5,"s":"u","v":0.037},{"x":50.8,"s":"u","v":0.0361},{"x":51.8,"s":"u","v":0.0312},{"x":54.5,"s":"u","v":0.028},{"x":57.8,"s":"u","v":0.0254},{"x":61.1,"s":"u","v":0.0237},{"x":64.5,"s":"u","v":0.0237},{"x":67.4,"s":"u","v":0.0235},{"x":71.1,"s":"u","v":0.0263},{"x":73.8,"s":"u","v":0.028},{"x":75.1,"s":"u","v":0.0351},{"x":76.7,"s":"u","v":0.0357},{"x":78.1,"s":"u","v":0.0392},{"x":79.2,"s":"u","v":0.0344},{"x":80.4,"s":"u","v":0.0357},{"x":81.4,"s":"u","v":0.0376},{"x":82.4,"s":"u","v":0.0286},{"x":84.4,"s":"u","v":0.0254},{"x":87.7,"s":"u","v":0.0245},{"x":91,"s":"u","v":0.025},{"x":93.4,"s":"u","v":0.0267},{"x":95,"s":"u","v":0.0293},{"x":97.7,"s":"u","v":0.0299},{"x":98.7,"s":"u","v":0.0312},{"x":99.7,"s":"u","v":0.0353},
      {"x":0.8,"s":"l","v":-0.0287},{"x":2,"s":"l","v":-0.0267},{"x":4.7,"s":"l","v":-0.025},{"x":8.6,"s":"l","v":-0.0228},{"x":12.6,"s":"l","v":-0.0237},{"x":15.9,"s":"l","v":-0.0237},{"x":18.6,"s":"l","v":-0.0254},{"x":21.9,"s":"l","v":-0.028},{"x":24.6,"s":"l","v":-0.0335},{"x":26.6,"s":"l","v":-0.0366},{"x":27.6,"s":"l","v":-0.0357},{"x":28.9,"s":"l","v":-0.0335},{"x":30.6,"s":"l","v":-0.0351},{"x":31.9,"s":"l","v":-0.0293},{"x":33.9,"s":"l","v":-0.0273},{"x":37.9,"s":"l","v":-0.0263},{"x":41.9,"s":"l","v":-0.0276},{"x":43.9,"s":"l","v":-0.0312},{"x":45.8,"s":"l","v":-0.0357},{"x":48.5,"s":"l","v":-0.037},{"x":50.8,"s":"l","v":-0.0361},{"x":51.8,"s":"l","v":-0.0312},{"x":54.5,"s":"l","v":-0.028},{"x":57.8,"s":"l","v":-0.0254},{"x":61.1,"s":"l","v":-0.0237},{"x":64.5,"s":"l","v":-0.0237},{"x":67.4,"s":"l","v":-0.0235},{"x":71.1,"s":"l","v":-0.0263},{"x":73.8,"s":"l","v":-0.028},{"x":75.1,"s":"l","v":-0.0351},{"x":76.7,"s":"l","v":-0.0357},{"x":78.1,"s":"l","v":-0.0381},{"x":79.2,"s":"l","v":-0.0344},{"x":80.4,"s":"l","v":-0.0357},{"x":81.4,"s":"l","v":-0.0376},{"x":82.4,"s":"l","v":-0.0286},{"x":84.4,"s":"l","v":-0.0254},{"x":87.7,"s":"l","v":-0.0245},{"x":91,"s":"l","v":-0.025},{"x":93.4,"s":"l","v":-0.0267},{"x":95,"s":"l","v":-0.0293},{"x":97.7,"s":"l","v":-0.0299},{"x":98.7,"s":"l","v":-0.0312},{"x":99.7,"s":"l","v":-0.0353}
    ],
    "tz": [
      {"x":0.5,"s":"e","v":0.00139},{"x":1.5,"s":"e","v":0.00107},{"x":2.5,"s":"e","v":0.00044},{"x":3.7,"s":"e","v":-0.00032},{"x":4.9,"s":"e","v":0.00013},{"x":5.8,"s":"e","v":0.00032},{"x":6.8,"s":"e","v":-0.00019},{"x":7.8,"s":"e","v":0.00032},{"x":8.8,"s":"e","v":0.00057},{"x":9.8,"s":"e","v":0.00107},{"x":10.8,"s":"e","v":-0.00019},{"x":11.8,"s":"e","v":-0.0005},{"x":12.8,"s":"e","v":-0.00132},{"x":13.8,"s":"e","v":-0.00082},{"x":14.8,"s":"e","v":-0.00221},{"x":15.8,"s":"e","v":-0.00114},{"x":17,"s":"e","v":-0.00208},{"x":17.9,"s":"e","v":-0.00196},{"x":18.9,"s":"e","v":-0.00082},{"x":19.9,"s":"e","v":0.00032},{"x":20.9,"s":"e","v":-0.00006},{"x":21.9,"s":"e","v":-0.00271},{"x":22.9,"s":"e","v":-0.00448},{"x":23.9,"s":"e","v":-0.00158},{"x":24.9,"s":"e","v":-0.00196},{"x":25.9,"s":"e","v":-0.00158},{"x":27,"s":"e","v":-0.00271},{"x":28,"s":"e","v":-0.00082},{"x":29,"s":"e","v":0.00013},{"x":29.9,"s":"e","v":-0.00114},{"x":30.9,"s":"e","v":-0.00259},{"x":31.9,"s":"e","v":-0.00196},{"x":32.9,"s":"e","v":-0.00177},{"x":33.9,"s":"e","v":0.00013},{"x":34.9,"s":"e","v":-0.0005},{"x":35.9,"s":"e","v":-0.00032},{"x":36.9,"s":"e","v":-0.00095},{"x":37.9,"s":"e","v":-0.00145},{"x":38.9,"s":"e","v":-0.00145},{"x":39.9,"s":"e","v":-0.00196},{"x":40.9,"s":"e","v":-0.00196},{"x":41.9,"s":"e","v":-0.00132},{"x":42.9,"s":"e","v":-0.00095},{"x":43.9,"s":"e","v":0.00107},{"x":44.9,"s":"e","v":-0.00069},{"x":45.8,"s":"e","v":-0.00158},{"x":46.8,"s":"e","v":-0.00473},{"x":47.8,"s":"e","v":-0.00524},{"x":48.8,"s":"e","v":-0.00448},{"x":49.8,"s":"e","v":-0.00473},{"x":50.8,"s":"e","v":-0.00303},{"x":51.7,"s":"e","v":-0.00221},{"x":52.7,"s":"e","v":0.00233},{"x":53.7,"s":"e","v":0.00297},{"x":54.8,"s":"e","v":0.00297},{"x":55.8,"s":"e","v":0.00139},{"x":56.8,"s":"e","v":-0.00132},{"x":58,"s":"e","v":-0.00271},{"x":59,"s":"e","v":-0.00448},{"x":60,"s":"e","v":-0.00334},{"x":61,"s":"e","v":-0.00322},{"x":62.1,"s":"e","v":-0.00259},{"x":63.1,"s":"e","v":0.00095},{"x":64.1,"s":"e","v":0.00139},{"x":65.1,"s":"e","v":-0.00019},{"x":66.2,"s":"e","v":-0.00208},{"x":67.2,"s":"e","v":-0.00196},{"x":68.2,"s":"e","v":0.0012},{"x":69.2,"s":"e","v":-0.00145},{"x":70.2,"s":"e","v":-0.00006},{"x":71.2,"s":"e","v":-0.00158},{"x":72.2,"s":"e","v":-0.00069},{"x":73.2,"s":"e","v":-0.00221},{"x":74.2,"s":"e","v":-0.00196},{"x":75.2,"s":"e","v":0.00076},{"x":76.2,"s":"e","v":0.00328},{"x":77.3,"s":"e","v":0.00202},{"x":78.3,"s":"e","v":0.00044},{"x":79.3,"s":"e","v":-0.00145},{"x":80.3,"s":"e","v":0.00057},{"x":81.3,"s":"e","v":-0.00032},{"x":82.3,"s":"e","v":0.00095},{"x":83.3,"s":"e","v":0.00076},{"x":84.3,"s":"e","v":0.00221},{"x":85.3,"s":"e","v":0.0012},{"x":86.2,"s":"e","v":0.00158},{"x":87.2,"s":"e","v":-0.00019},{"x":88.2,"s":"e","v":0.00013},{"x":89.2,"s":"e","v":-0.00006},{"x":90.2,"s":"e","v":0.00032},{"x":91.2,"s":"e","v":-0.0005},{"x":92.2,"s":"e","v":-0.00114},{"x":93.2,"s":"e","v":-0.00019},{"x":94.2,"s":"e","v":0.00057},{"x":95.2,"s":"e","v":0.00202},{"x":96.2,"s":"e","v":0.00183},{"x":97.2,"s":"e","v":0.00044},{"x":98.2,"s":"e","v":-0.00114},{"x":99.2,"s":"e","v":-0.00145},{"x":99.9,"s":"e","v":-0.00145},
      {"x":0.7,"s":"u","v":0.00612},{"x":1.9,"s":"u","v":0.00391},{"x":5.2,"s":"u","v":0.00391},{"x":9.2,"s":"u","v":0.00498},{"x":13.8,"s":"u","v":0.00599},{"x":17.1,"s":"u","v":0.00738},{"x":20.5,"s":"u","v":0.00864},{"x":23.5,"s":"u","v":0.00927},{"x":25.1,"s":"u","v":0.01022},{"x":26.4,"s":"u","v":0.01148},{"x":28.1,"s":"u","v":0.01085},{"x":29.2,"s":"u","v":0.0118},{"x":30.4,"s":"u","v":0.01117},{"x":32.4,"s":"u","v":0.00959},{"x":35.7,"s":"u","v":0.00927},{"x":38.4,"s":"u","v":0.00927},{"x":41,"s":"u","v":0.00978},{"x":42.7,"s":"u","v":0.01054},{"x":44.1,"s":"u","v":0.01243},{"x":45.4,"s":"u","v":0.01621},{"x":46.4,"s":"u","v":0.01697},{"x":48,"s":"u","v":0.01634},{"x":49.7,"s":"u","v":0.01811},{"x":51,"s":"u","v":0.01621},{"x":52,"s":"u","v":0.01148},{"x":53.7,"s":"u","v":0.01066},{"x":57,"s":"u","v":0.01054},{"x":60.7,"s":"u","v":0.01085},{"x":64.3,"s":"u","v":0.00991},{"x":68.3,"s":"u","v":0.0094},{"x":72.3,"s":"u","v":0.00978},{"x":73.6,"s":"u","v":0.01054},{"x":74.6,"s":"u","v":0.01527},{"x":75.6,"s":"u","v":0.01748},{"x":76.4,"s":"u","v":0.01811},{"x":77.3,"s":"u","v":0.01987},{"x":78.1,"s":"u","v":0.01338},{"x":79.1,"s":"u","v":0.01653},{"x":79.9,"s":"u","v":0.0159},{"x":81.3,"s":"u","v":0.01369},{"x":82.3,"s":"u","v":0.00707},{"x":83.6,"s":"u","v":0.0058},{"x":86.3,"s":"u","v":0.00498},{"x":90.2,"s":"u","v":0.0041},{"x":93.6,"s":"u","v":0.00372},{"x":95.5,"s":"u","v":0.00549},{"x":97.2,"s":"u","v":0.00688},{"x":98.5,"s":"u","v":0.00599},{"x":99.9,"s":"u","v":0.00625},
      {"x":0.7,"s":"l","v":-0.00574},{"x":1.9,"s":"l","v":-0.00391},{"x":5.2,"s":"l","v":-0.00391},{"x":9.2,"s":"l","v":-0.00498},{"x":13.8,"s":"l","v":-0.00599},{"x":17.1,"s":"l","v":-0.00738},{"x":20.5,"s":"l","v":-0.00864},{"x":23.5,"s":"l","v":-0.00927},{"x":25.1,"s":"l","v":-0.01022},{"x":26.4,"s":"l","v":-0.01148},{"x":28.1,"s":"l","v":-0.01085},{"x":29.2,"s":"l","v":-0.0118},{"x":30.4,"s":"l","v":-0.01117},{"x":32.4,"s":"l","v":-0.00959},{"x":35.7,"s":"l","v":-0.00927},{"x":38.4,"s":"l","v":-0.00927},{"x":41,"s":"l","v":-0.00978},{"x":42.7,"s":"l","v":-0.01054},{"x":44.1,"s":"l","v":-0.01243},{"x":45.4,"s":"l","v":-0.01621},{"x":46.4,"s":"l","v":-0.01697},{"x":48,"s":"l","v":-0.01634},{"x":49.7,"s":"l","v":-0.01785},{"x":51,"s":"l","v":-0.01621},{"x":52,"s":"l","v":-0.01148},{"x":53.7,"s":"l","v":-0.01066},{"x":57,"s":"l","v":-0.01054},{"x":60.7,"s":"l","v":-0.01085},{"x":64.3,"s":"l","v":-0.00991},{"x":68.3,"s":"l","v":-0.0094},{"x":72.3,"s":"l","v":-0.00978},{"x":73.6,"s":"l","v":-0.01054},{"x":74.6,"s":"l","v":-0.01527},{"x":75.6,"s":"l","v":-0.01748},{"x":76.4,"s":"l","v":-0.01811},{"x":77.3,"s":"l","v":-0.01962},{"x":78.1,"s":"l","v":-0.01338},{"x":79.1,"s":"l","v":-0.01653},{"x":79.9,"s":"l","v":-0.0159},{"x":81.3,"s":"l","v":-0.01369},{"x":82.3,"s":"l","v":-0.00707},{"x":83.6,"s":"l","v":-0.0058},{"x":86.3,"s":"l","v":-0.00498},{"x":90.2,"s":"l","v":-0.0041},{"x":93.6,"s":"l","v":-0.00372},{"x":95.5,"s":"l","v":-0.00549},{"x":97.2,"s":"l","v":-0.00688},{"x":98.5,"s":"l","v":-0.00599},{"x":99.9,"s":"l","v":-0.00625}
    ]
  },
  "concat": [
    {
      "width": 502, "height": 226,
      "data": {"name": "rx"},
      "mark": {"type": "line", "strokeWidth": 3.5},
      "encoding": {
        "x": {"field": "x", "type": "quantitative", "scale": {"domain": [0, 100], "nice": false}, "axis": {"values": [0, 20, 40, 60, 80, 100], "title": null}},
        "y": {"field": "v", "type": "quantitative", "scale": {"domain": [-0.101, 0.1022], "nice": false, "zero": false}, "axis": {"values": [-0.1, 0, 0.1], "format": ".1f", "labelExpr": "replace(datum.label, '\u2212', '-')", "title": "Rot. X", "titleX": -160}},
        "color": {"field": "s", "type": "nominal", "scale": {"domain": ["e", "u", "l"], "range": ["#ff0000", "#0000ff", "#0000ff"]}, "legend": null},
        "strokeDash": {"field": "s", "type": "nominal", "scale": {"domain": ["e", "u", "l"], "range": [[1, 0], [15, 6], [15, 6]]}, "legend": null}
      }
    },
    {
      "width": 502, "height": 226,
      "data": {"name": "tx"},
      "mark": {"type": "line", "strokeWidth": 3.5},
      "encoding": {
        "x": {"field": "x", "type": "quantitative", "scale": {"domain": [0, 100], "nice": false}, "axis": {"values": [0, 20, 40, 60, 80, 100], "title": null}},
        "y": {"field": "v", "type": "quantitative", "scale": {"domain": [-0.0101, 0.0101], "nice": false, "zero": false}, "axis": {"values": [-0.01, 0, 0.01], "format": ".2f", "labelExpr": "replace(datum.label, '\u2212', '-')", "title": "Transl. X", "titleX": -154}},
        "color": {"field": "s", "type": "nominal", "scale": {"domain": ["e", "u", "l"], "range": ["#ff0000", "#0000ff", "#0000ff"]}, "legend": null},
        "strokeDash": {"field": "s", "type": "nominal", "scale": {"domain": ["e", "u", "l"], "range": [[1, 0], [15, 6], [15, 6]]}, "legend": null}
      }
    },
    {
      "width": 502, "height": 226,
      "data": {"name": "ry"},
      "mark": {"type": "line", "strokeWidth": 3.5},
      "encoding": {
        "x": {"field": "x", "type": "quantitative", "scale": {"domain": [0, 100], "nice": false}, "axis": {"values": [0, 20, 40, 60, 80, 100], "title": null}},
        "y": {"field": "v", "type": "quantitative", "scale": {"domain": [-0.0791, 0.0792], "nice": false, "zero": false}, "axis": {"values": [-0.05, 0, 0.05], "format": ".2f", "labelExpr": "replace(datum.label, '\u2212', '-')", "title": "Rot. Y", "titleX": -160}},
        "color": {"field": "s", "type": "nominal", "scale": {"domain": ["e", "u", "l"], "range": ["#ff0000", "#0000ff", "#0000ff"]}, "legend": null},
        "strokeDash": {"field": "s", "type": "nominal", "scale": {"domain": ["e", "u", "l"], "range": [[1, 0], [15, 6], [15, 6]]}, "legend": null}
      }
    },
    {
      "width": 502, "height": 226,
      "data": {"name": "ty"},
      "mark": {"type": "line", "strokeWidth": 3.5},
      "encoding": {
        "x": {"field": "x", "type": "quantitative", "scale": {"domain": [0, 100], "nice": false}, "axis": {"values": [0, 20, 40, 60, 80, 100], "title": null}},
        "y": {"field": "v", "type": "quantitative", "scale": {"domain": [-0.01335, 0.01334], "nice": false, "zero": false}, "axis": {"values": [-0.01, 0, 0.01], "format": ".2f", "labelExpr": "replace(datum.label, '\u2212', '-')", "title": "Transl. Y", "titleX": -154}},
        "color": {"field": "s", "type": "nominal", "scale": {"domain": ["e", "u", "l"], "range": ["#ff0000", "#0000ff", "#0000ff"]}, "legend": null},
        "strokeDash": {"field": "s", "type": "nominal", "scale": {"domain": ["e", "u", "l"], "range": [[1, 0], [15, 6], [15, 6]]}, "legend": null}
      }
    },
    {
      "width": 502, "height": 226,
      "data": {"name": "rz"},
      "mark": {"type": "line", "strokeWidth": 3.5},
      "encoding": {
        "x": {"field": "x", "type": "quantitative", "scale": {"domain": [0, 100], "nice": false}, "axis": {"values": [0, 20, 40, 60, 80, 100], "title": "Scans"}},
        "y": {"field": "v", "type": "quantitative", "scale": {"domain": [-0.043, 0.0439], "nice": false, "zero": false}, "axis": {"values": [-0.025, 0, 0.025], "format": ".3f", "labelExpr": "replace(datum.label, '\u2212', '-')", "title": "Rot. Z", "titleX": -160}},
        "color": {"field": "s", "type": "nominal", "scale": {"domain": ["e", "u", "l"], "range": ["#ff0000", "#0000ff", "#0000ff"]}, "legend": null},
        "strokeDash": {"field": "s", "type": "nominal", "scale": {"domain": ["e", "u", "l"], "range": [[1, 0], [15, 6], [15, 6]]}, "legend": null}
      }
    },
    {
      "width": 502, "height": 226,
      "data": {"name": "tz"},
      "mark": {"type": "line", "strokeWidth": 3.5},
      "encoding": {
        "x": {"field": "x", "type": "quantitative", "scale": {"domain": [0, 100], "nice": false}, "axis": {"values": [0, 20, 40, 60, 80, 100], "title": "Scans"}},
        "y": {"field": "v", "type": "quantitative", "scale": {"domain": [-0.02125, 0.02144], "nice": false, "zero": false}, "axis": {"values": [-0.02, 0, 0.02], "format": ".2f", "labelExpr": "replace(datum.label, '\u2212', '-')", "title": "Transl. Z", "titleX": -154}},
        "color": {"field": "s", "type": "nominal", "scale": {"domain": ["e", "u", "l"], "range": ["#ff0000", "#0000ff", "#0000ff"]}, "legend": null},
        "strokeDash": {"field": "s", "type": "nominal", "scale": {"domain": ["e", "u", "l"], "range": [[1, 0], [15, 6], [15, 6]]}, "legend": null}
      }
    }
  ],
  "config": {
    "font": "Liberation Serif",
    "view": {"stroke": "#000000", "strokeWidth": 3},
    "axis": {
      "grid": false, "domain": false,
      "tickColor": "#000000", "tickSize": 9, "tickWidth": 3,
      "labelFont": "Liberation Serif", "labelFontSize": 46, "labelColor": "#000000",
      "labelFlush": false, "labelOverlap": false,
      "titleFont": "Liberation Serif", "titleFontSize": 48, "titleFontWeight": "normal", "titleColor": "#000000"
    },
    "axisX": {"labelPadding": 3, "titlePadding": 5},
    "axisY": {"labelPadding": 13, "titleBaseline": "middle"}
  }
}
